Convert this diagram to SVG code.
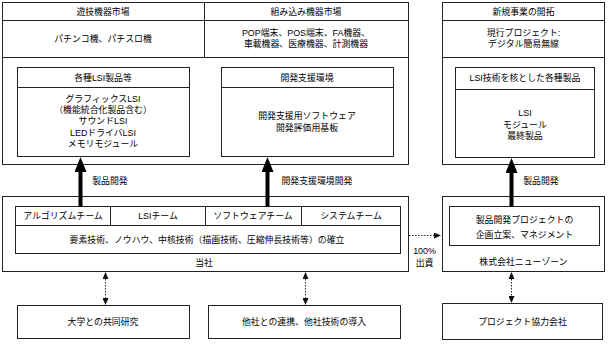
<svg xmlns="http://www.w3.org/2000/svg" width="609" height="345" viewBox="0 0 609 345">
<style>
text{font-family:"Liberation Sans","Noto Sans CJK JP",sans-serif;font-size:8.9px;fill:#000;text-anchor:middle;dominant-baseline:central}
.b{fill:#fff;stroke:#222;stroke-width:1}
.l{stroke:#222;stroke-width:1;fill:none}
.d{stroke:#222;stroke-width:1;stroke-dasharray:1.5 1.5;fill:none}
.t{stroke:#000;stroke-width:4}
</style>
<defs>
<marker id="big" viewBox="0 0 15 12" refX="0" refY="6" markerWidth="15" markerHeight="12" markerUnits="userSpaceOnUse" orient="auto"><path d="M0,0 L15,6 L0,12 Z" fill="#000"/></marker>
<marker id="sm" viewBox="0 0 7 6" refX="0" refY="3" markerWidth="7" markerHeight="6" markerUnits="userSpaceOnUse" orient="auto-start-reverse"><path d="M0,0 L7,3 L0,6 Z" fill="#111"/></marker>
</defs>
<rect width="609" height="345" fill="#fff"/>

<g id="markets">
<rect class="b" x="2.5" y="2.5" width="406" height="162"/>
<line class="l" x1="2.5" y1="20.5" x2="408.5" y2="20.5"/>
<line class="l" x1="2.5" y1="57.5" x2="408.5" y2="57.5"/>
<line class="l" x1="204.5" y1="2.5" x2="204.5" y2="57.5"/>
<text x="103" y="11.5">遊技機器市場</text>
<text x="306" y="11.5">組み込み機器市場</text>
<text x="103" y="39">パチンコ機、パチスロ機</text>
<text x="306" y="33">POP端末、POS端末、FA機器、</text>
<text x="306" y="44">車載機器、医療機器、計測機器</text>
</g>

<g id="lsi-products">
<rect class="b" x="17.5" y="67.5" width="172" height="89"/>
<line class="l" x1="17.5" y1="87.5" x2="189.5" y2="87.5"/>
<text x="103" y="77.5">各種LSI製品等</text>
<text x="103" y="99">グラフィックスLSI</text>
<text x="103" y="110">（機能統合化製品含む）</text>
<text x="103" y="121">サウンドLSI</text>
<text x="103" y="132.5">LEDドライバLSI</text>
<text x="103" y="143.5">メモリモジュール</text>
</g>

<g id="dev-env">
<rect class="b" x="221.5" y="67.5" width="172" height="89"/>
<line class="l" x1="221.5" y1="87.5" x2="393.5" y2="87.5"/>
<text x="307" y="77.5">開発支援環境</text>
<text x="307" y="116">開発支援用ソフトウェア</text>
<text x="307" y="127.5">開発評価用基板</text>
</g>

<g id="new-business">
<rect class="b" x="442.5" y="2.5" width="162" height="162"/>
<line class="l" x1="442.5" y1="20.5" x2="604.5" y2="20.5"/>
<line class="l" x1="442.5" y1="57.5" x2="604.5" y2="57.5"/>
<text x="523.5" y="11.5">新規事業の開拓</text>
<text x="523.5" y="33">現行プロジェクト:</text>
<text x="523.5" y="44">デジタル簡易無線</text>
</g>

<g id="lsi-core-products">
<rect class="b" x="455.5" y="67.5" width="139" height="90"/>
<line class="l" x1="455.5" y1="89.5" x2="594.5" y2="89.5"/>
<text x="525" y="78">LSI技術を核とした各種製品</text>
<text x="525" y="113">LSI</text>
<text x="525" y="124.5">モジュール</text>
<text x="525" y="136">最終製品</text>
</g>

<g id="company">
<rect class="b" x="2.5" y="196.5" width="406" height="75"/>
<rect class="b" x="15.5" y="206.5" width="385" height="47"/>
<line class="l" x1="15.5" y1="225.5" x2="400.5" y2="225.5"/>
<line class="l" x1="110.5" y1="206.5" x2="110.5" y2="225.5"/>
<line class="l" x1="205.5" y1="206.5" x2="205.5" y2="225.5"/>
<line class="l" x1="301.5" y1="206.5" x2="301.5" y2="225.5"/>
<text x="63" y="216">アルゴリズムチーム</text>
<text x="158" y="216">LSIチーム</text>
<text x="253" y="216">ソフトウェアチーム</text>
<text x="351" y="216">システムチーム</text>
<text x="207" y="239.5">要素技術、ノウハウ、中核技術（描画技術、圧縮伸長技術等）の確立</text>
<text x="204" y="263">当社</text>
</g>

<g id="newzone">
<rect class="b" x="442.5" y="196.5" width="162" height="75"/>
<rect class="b" x="449.5" y="206.5" width="150" height="39"/>
<text x="524.5" y="220">製品開発プロジェクトの</text>
<text x="524.5" y="234.5">企画立案、マネジメント</text>
<text x="523.5" y="262">株式会社ニューゾーン</text>
</g>

<g id="university">
<rect class="b" x="17.5" y="305.5" width="172" height="33"/>
<text x="103" y="322">大学との共同研究</text>
</g>

<g id="partners">
<rect class="b" x="208.5" y="305.5" width="192" height="33"/>
<text x="304" y="322">他社との連携、他社技術の導入</text>
</g>

<g id="project-partners">
<rect class="b" x="442.5" y="303.5" width="160" height="36"/>
<text x="522.5" y="322">プロジェクト協力会社</text>
</g>

<g id="connectors">
<line class="t" x1="80.5" y1="207" x2="80.5" y2="172" marker-end="url(#big)"/>
<line class="t" x1="267.5" y1="207" x2="267.5" y2="172" marker-end="url(#big)"/>
<line class="t" x1="511.5" y1="207" x2="511.5" y2="173" marker-end="url(#big)"/>
<line class="d" x1="105.5" y1="279" x2="105.5" y2="298" marker-start="url(#sm)" marker-end="url(#sm)"/>
<line class="d" x1="305.5" y1="279" x2="305.5" y2="298" marker-start="url(#sm)" marker-end="url(#sm)"/>
<line class="d" x1="511.5" y1="279" x2="511.5" y2="296" marker-start="url(#sm)" marker-end="url(#sm)"/>
<line class="d" x1="409" y1="235.5" x2="434" y2="235.5" marker-end="url(#sm)"/>
</g>

<g id="labels">
<text x="110" y="180.5">製品開発</text>
<text x="317" y="180.5">開発支援環境開発</text>
<text x="541" y="180.5">製品開発</text>
<text x="424.5" y="251">100%</text>
<text x="424.5" y="263">出資</text>
</g>
</svg>
